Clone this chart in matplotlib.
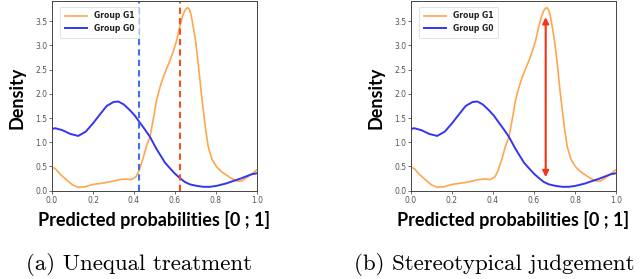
import numpy as np
import matplotlib.pyplot as plt

# density curves
x_g1 = [0.0, 0.015, 0.04, 0.072, 0.1, 0.128, 0.16, 0.2, 0.235, 0.267, 0.3, 0.33, 0.36, 0.387,
        0.41, 0.426, 0.445, 0.46, 0.478, 0.495, 0.51, 0.527, 0.543, 0.56, 0.576, 0.592,
        0.608, 0.624, 0.637, 0.648, 0.658, 0.665, 0.672, 0.68, 0.689, 0.70, 0.714, 0.726,
        0.738, 0.75, 0.762, 0.78, 0.803, 0.828, 0.852, 0.877, 0.901, 0.925, 0.95, 0.975, 1.0]
y_g1 = [0.48, 0.46, 0.34, 0.22, 0.12, 0.07, 0.08, 0.13, 0.15, 0.17, 0.2, 0.23, 0.24, 0.23,
        0.29, 0.43, 0.68, 0.91, 1.11, 1.5, 1.87, 2.14, 2.35, 2.53, 2.69, 2.88,
        3.1, 3.4, 3.6, 3.72, 3.77, 3.77, 3.72, 3.6, 3.38, 3.1, 2.6, 2.1,
        1.66, 1.25, 0.91, 0.65, 0.49, 0.39, 0.32, 0.25, 0.2, 0.2, 0.27, 0.35, 0.43]

x_g0 = [0.0, 0.015, 0.05, 0.09, 0.128, 0.165, 0.2, 0.235, 0.267, 0.3, 0.324, 0.35, 0.38,
        0.404, 0.426, 0.452, 0.478, 0.51, 0.551, 0.576, 0.6, 0.624, 0.648, 0.673, 0.705,
        0.738, 0.77, 0.803, 0.85, 0.884, 0.92, 0.95, 0.975, 1.0]
y_g0 = [1.27, 1.29, 1.25, 1.17, 1.13, 1.22, 1.39, 1.58, 1.75, 1.83, 1.84, 1.78, 1.66,
        1.55, 1.42, 1.27, 1.11, 0.86, 0.58, 0.46, 0.35, 0.26, 0.18, 0.13, 0.1,
        0.08, 0.08, 0.1, 0.15, 0.2, 0.25, 0.3, 0.34, 0.36]

mean_g0 = 0.424
mean_g1 = 0.623
arrow_x = 0.657
arrow_y = (0.28, 3.58)

captions = ['(a) Unequal treatment', '(b) Stereotypical judgement']

c_g1 = '#ffa64d'
c_g0 = '#3535f0'

fig = plt.figure(figsize=(6.4, 2.79), dpi=100)
lefts = [52 / 640, 411 / 640]
centers = [139, 494]

for i in range(2):
    ax = fig.add_axes([lefts[i], 1 - 190.7 / 279, 205 / 640, 189.5 / 279])
    ax.plot(x_g1, y_g1, color=c_g1, lw=1.2, label='Group G1')
    ax.plot(x_g0, y_g0, color=c_g0, lw=1.4, label='Group G0')
    if i == 0:
        ax.axvline(mean_g0, color='#3d6ff0', ls='--', lw=1.5, dashes=(3, 2))
        ax.axvline(mean_g1, color='#f2521c', ls='--', lw=1.5, dashes=(3, 2))
    else:
        ax.annotate('', xy=(arrow_x, arrow_y[1]), xytext=(arrow_x, arrow_y[0]),
                    arrowprops=dict(arrowstyle='<|-|>', color='#f53318', lw=1.5,
                                    mutation_scale=9, shrinkA=0, shrinkB=0))
    ax.set_xlim(0, 1)
    ax.set_ylim(0, 3.91)
    ax.set_xticks([0, 0.2, 0.4, 0.6, 0.8, 1.0])
    ax.set_yticks([0, 0.5, 1.0, 1.5, 2.0, 2.5, 3.0, 3.5])
    ax.tick_params(labelsize=5.5, colors='#555555', length=2, width=0.6, pad=1.5)
    for s in ax.spines.values():
        s.set_color('#444444')
        s.set_linewidth(0.7)
    leg = ax.legend(loc='upper left', fontsize=5.5, handlelength=3, borderpad=0.6,
                    labelspacing=0.45, frameon=True, fancybox=True,
                    bbox_to_anchor=(0.02, 0.99))
    leg.get_frame().set_linewidth(0.5)
    for t in leg.get_texts():
        t.set_fontweight('bold')
        t.set_color('#222222')

    x0 = lefts[i] * 640
    fig.text((x0 + 102) / 640, 1 - 220 / 279, 'Predicted probabilities [0 ; 1]',
             ha='center', va='center', fontsize=13, fontweight='bold', family='Lato')
    fig.text((x0 - 35) / 640, 1 - 98 / 279, 'Density', rotation=90,
             ha='center', va='center', fontsize=13, fontweight='bold', family='Lato')
    fig.text(centers[i] / 640, 1 - 265 / 279, captions[i], ha='center', va='center',
             fontsize=16.5, family='cmr10')

fig.savefig('out.png', dpi=100)
